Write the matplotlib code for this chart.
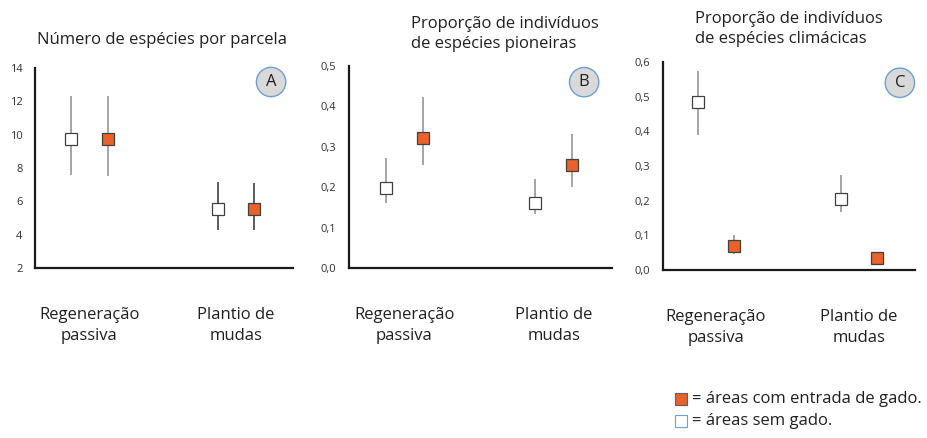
import matplotlib
matplotlib.use("Agg")
import matplotlib.pyplot as plt
from matplotlib.patches import Rectangle
from matplotlib.ticker import FuncFormatter

plt.rcParams['font.family'] = ['Open Sans', 'DejaVu Sans']

W, H = 927, 438

categorias = ["Regeneração\npassiva", "Plantio de\nmudas"]

# Painel A - número de espécies por parcela
a_sem = [9.74, 5.54]
a_sem_lo = [7.58, 4.28]
a_sem_hi = [12.32, 7.16]
a_com = [9.75, 5.54]
a_com_lo = [7.50, 4.28]
a_com_hi = [12.35, 7.12]

# Painel B - proporção de pioneiras
b_sem = [0.198, 0.161]
b_sem_lo = [0.161, 0.134]
b_sem_hi = [0.272, 0.220]
b_com = [0.322, 0.255]
b_com_lo = [0.255, 0.200]
b_com_hi = [0.423, 0.331]

# Painel C - proporção de climácicas
c_sem = [0.486, 0.205]
c_sem_lo = [0.390, 0.168]
c_sem_hi = [0.575, 0.275]
c_com = [0.069, 0.035]
c_com_lo = [0.045, 0.025]
c_com_hi = [0.101, 0.045]

laranja = "#E8622A"
cinza = "#8c8c8c"


def fx(x):
    return x / W


def fy(y):
    return 1 - y / H


def painel(rect, sem, sem_lo, sem_hi, com, com_lo, com_hi, ylim, yticks,
           fmt, letra, letra_pos, ecor=(cinza, cinza)):
    ax = fig.add_axes(rect)
    off = 0.125
    xs = [i - off for i in range(2)]
    xc = [i + off for i in range(2)]
    ax.vlines(xs, sem_lo, sem_hi, colors=ecor, lw=1.1, zorder=1)
    ax.vlines(xc, com_lo, com_hi, colors=ecor, lw=1.1, zorder=1)
    ax.plot(xs, sem, ls='none', marker='s', ms=9, mfc='white', mec='#404040', mew=0.9, zorder=3)
    ax.plot(xc, com, ls='none', marker='s', ms=9, mfc=laranja, mec='#404040', mew=0.9, zorder=3)
    ax.set_xlim(-0.37, 1.39)
    ax.set_ylim(*ylim)
    ax.set_yticks(yticks)
    ax.yaxis.set_major_formatter(FuncFormatter(fmt))
    ax.set_xticks([0, 1])
    ax.set_xticklabels(categorias, fontsize=12, color='#202020', linespacing=1.4)
    ax.tick_params(axis='x', length=0, pad=28)
    ax.tick_params(axis='y', length=0, pad=9, labelsize=8, labelcolor='#303030')
    for s in ['top', 'right']:
        ax.spines[s].set_visible(False)
    for s in ['left', 'bottom']:
        ax.spines[s].set_linewidth(1.6)
        ax.spines[s].set_color('#1a1a1a')
    ax.text(letra_pos[0], letra_pos[1], letra, transform=ax.transAxes, ha='center', va='center',
            fontsize=12, color='#202020',
            bbox=dict(boxstyle='circle,pad=0.4', fc='#d9d9d9', ec='#6f9fd0', lw=1))
    return ax


fig = plt.figure(figsize=(W / 100, H / 100), dpi=100)

fmt_int = lambda v, p: f"{v:.0f}"
fmt_dec = lambda v, p: f"{v:.1f}".replace('.', ',')

painel([fx(35), fy(268), fx(293) - fx(35), fy(68) - fy(268)],
       a_sem, a_sem_lo, a_sem_hi, a_com, a_com_lo, a_com_hi,
       (2, 14), [2, 4, 6, 8, 10, 12, 14], fmt_int, "A", (0.915, 0.93),
       ecor=(cinza, '#303030'))
painel([fx(349), fy(268), fx(612) - fx(349), fy(66) - fy(268)],
       b_sem, b_sem_lo, b_sem_hi, b_com, b_com_lo, b_com_hi,
       (0, 0.5), [0, 0.1, 0.2, 0.3, 0.4, 0.5], fmt_dec, "B", (0.894, 0.92))
painel([fx(663), fy(270), fx(915) - fx(663), fy(62) - fy(270)],
       c_sem, c_sem_lo, c_sem_hi, c_com, c_com_lo, c_com_hi,
       (0, 0.6), [0, 0.1, 0.2, 0.3, 0.4, 0.5, 0.6], fmt_dec, "C", (0.94, 0.90))

# titulos
fig.text(fx(162), fy(40), "Número de espécies por parcela", ha='center', va='center',
         fontsize=12, color='#202020')
fig.text(fx(411), fy(34), "Proporção de indivíduos\nde espécies pioneiras", ha='left', va='center',
         fontsize=12, color='#202020', linespacing=1.4)
fig.text(fx(695), fy(29), "Proporção de indivíduos\nde espécies climácicas", ha='left', va='center',
         fontsize=12, color='#202020', linespacing=1.4)

# legenda
fig.add_artist(Rectangle((fx(675), fy(405)), fx(12), fy(393) - fy(405), transform=fig.transFigure,
                         fc=laranja, ec='#606060', lw=0.8))
fig.add_artist(Rectangle((fx(675), fy(427)), fx(12), fy(415) - fy(427), transform=fig.transFigure,
                         fc='white', ec='#6f9fd0', lw=0.8))
fig.text(fx(692), fy(399), "= áreas com entrada de gado.", ha='left', va='center',
         fontsize=12, color='#202020')
fig.text(fx(692), fy(421), "= áreas sem gado.", ha='left', va='center',
         fontsize=12, color='#202020')

fig.savefig("out.png", dpi=100)
